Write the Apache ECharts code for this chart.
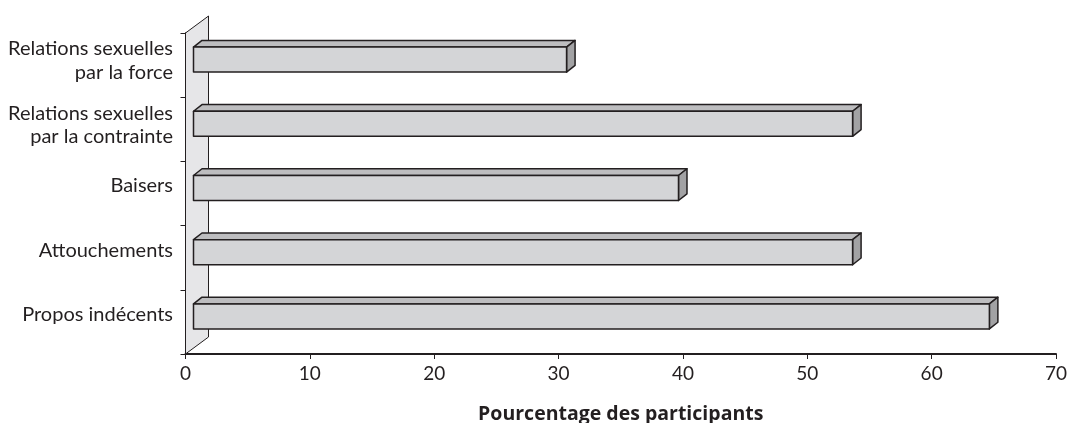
<!DOCTYPE html>
<html>
<head>
<meta charset="utf-8">
<script src="https://cdn.jsdelivr.net/npm/echarts@6/dist/echarts.min.js"></script>
<style>
  html, body { margin: 0; padding: 0; background: #ffffff; }
  #chart { width: 1069px; height: 423px; }
</style>
</head>
<body>
<div id="chart"></div>
<script>
// Categories from top to bottom and the share of participants for each
const categories = [
  'Relations sexuelles\npar la force',
  'Relations sexuelles\npar la contrainte',
  'Baisers',
  'Attouchements',
  'Propos indécents'
];
const values = [30, 53, 39, 53, 64];
const xMin = 0, xMax = 70, xStep = 10;
const xTitle = 'Pourcentage des participants';

const INK = '#231f20';
const FONT = 'Lato';

// Depth of the side wall and of each bar (pseudo 3D projection)
const WALL_DX = 23, WALL_DY = -17;
const FACE_DX = 8, FACE_DY = -5.5;   // front face shift from the axis plane
const BAR_DX = 8.5, BAR_DY = -6.7;   // bar thickness in depth

function renderWall(params, api) {
  const band = api.size([0, 1])[1];
  const top = api.coord([0, 0]);
  const bot = api.coord([0, categories.length - 1]);
  const x = top[0];
  const yTop = top[1] - band / 2;
  const yBot = bot[1] + band / 2;
  return {
    type: 'polygon',
    shape: { points: [[x, yTop], [x + WALL_DX, yTop + WALL_DY], [x + WALL_DX, yBot + WALL_DY], [x, yBot]] },
    style: { fill: '#e6e6e8', stroke: INK, lineWidth: 1 }
  };
}

function renderBar(params, api) {
  const val = api.value(0);
  const idx = api.value(1);
  const base = api.coord([0, idx]);
  const end = api.coord([val, idx]);
  const band = api.size([0, 1])[1];
  const h = band * 0.39;
  const x0 = base[0] + FACE_DX, x1 = end[0] + FACE_DX;
  const yc = base[1] + FACE_DY;
  const yt = yc - h / 2, yb = yc + h / 2;
  const line = { stroke: INK, lineWidth: 1.5, lineJoin: 'round' };
  const label = categories[idx];
  const multi = label.indexOf('\n') >= 0;
  return {
    type: 'group',
    children: [
      { type: 'polygon', shape: { points: [[x0, yt], [x0 + BAR_DX, yt + BAR_DY], [x1 + BAR_DX, yt + BAR_DY], [x1, yt]] },
        style: Object.assign({ fill: '#bdbdbf' }, line) },
      { type: 'polygon', shape: { points: [[x1, yt], [x1 + BAR_DX, yt + BAR_DY], [x1 + BAR_DX, yb + BAR_DY], [x1, yb]] },
        style: Object.assign({ fill: '#a2a2a4' }, line) },
      { type: 'rect', shape: { x: x0, y: yt, width: x1 - x0, height: h },
        style: Object.assign({ fill: '#d4d5d7' }, line) },
      // category name, right-aligned against the vertical axis
      { type: 'text', x: base[0] - 12.5, y: base[1] + (multi ? -4.5 : -7.5),
        style: { text: label, align: 'right', verticalAlign: 'middle', fill: INK,
                 font: '20px ' + FONT, lineHeight: 23.5 } }
    ]
  };
}

const chart = echarts.init(document.getElementById('chart'), null, { renderer: 'canvas' });
chart.setOption({
  animation: false,
  backgroundColor: '#ffffff',
  grid: { left: 185.5, right: 13, top: 33, bottom: 69, containLabel: false, outerBoundsMode: 'none' },
  xAxis: {
    type: 'value',
    min: xMin, max: xMax, interval: xStep,
    name: xTitle,
    nameLocation: 'middle',
    nameGap: 50,
    nameTextStyle: { color: INK, fontFamily: 'Open Sans', fontSize: 19.5, fontWeight: 'bold' },
    axisLine: { show: true, lineStyle: { color: INK, width: 2 } },
    axisTick: { show: true, length: 5, lineStyle: { color: INK, width: 1 } },
    axisLabel: { color: INK, fontFamily: FONT, fontSize: 19, margin: 10 },
    splitLine: { show: false }
  },
  yAxis: {
    type: 'category',
    inverse: true,
    data: categories,
    axisLine: { show: true, lineStyle: { color: INK, width: 2 } },
    axisTick: { show: true, length: 5, lineStyle: { color: INK, width: 1 } },
    axisLabel: { show: false },
    splitLine: { show: false }
  },
  series: [
    {
      type: 'custom',
      renderItem: renderWall,
      data: [[0, 0]],
      encode: { x: 0, y: 1 },
      clip: false,
      z: 1,
      silent: true
    },
    {
      type: 'custom',
      renderItem: renderBar,
      data: values.map((v, i) => [v, i]),
      encode: { x: 0, y: 1 },
      clip: false,
      z: 3,
      silent: true
    }
  ]
});
</script>
</body>
</html>
